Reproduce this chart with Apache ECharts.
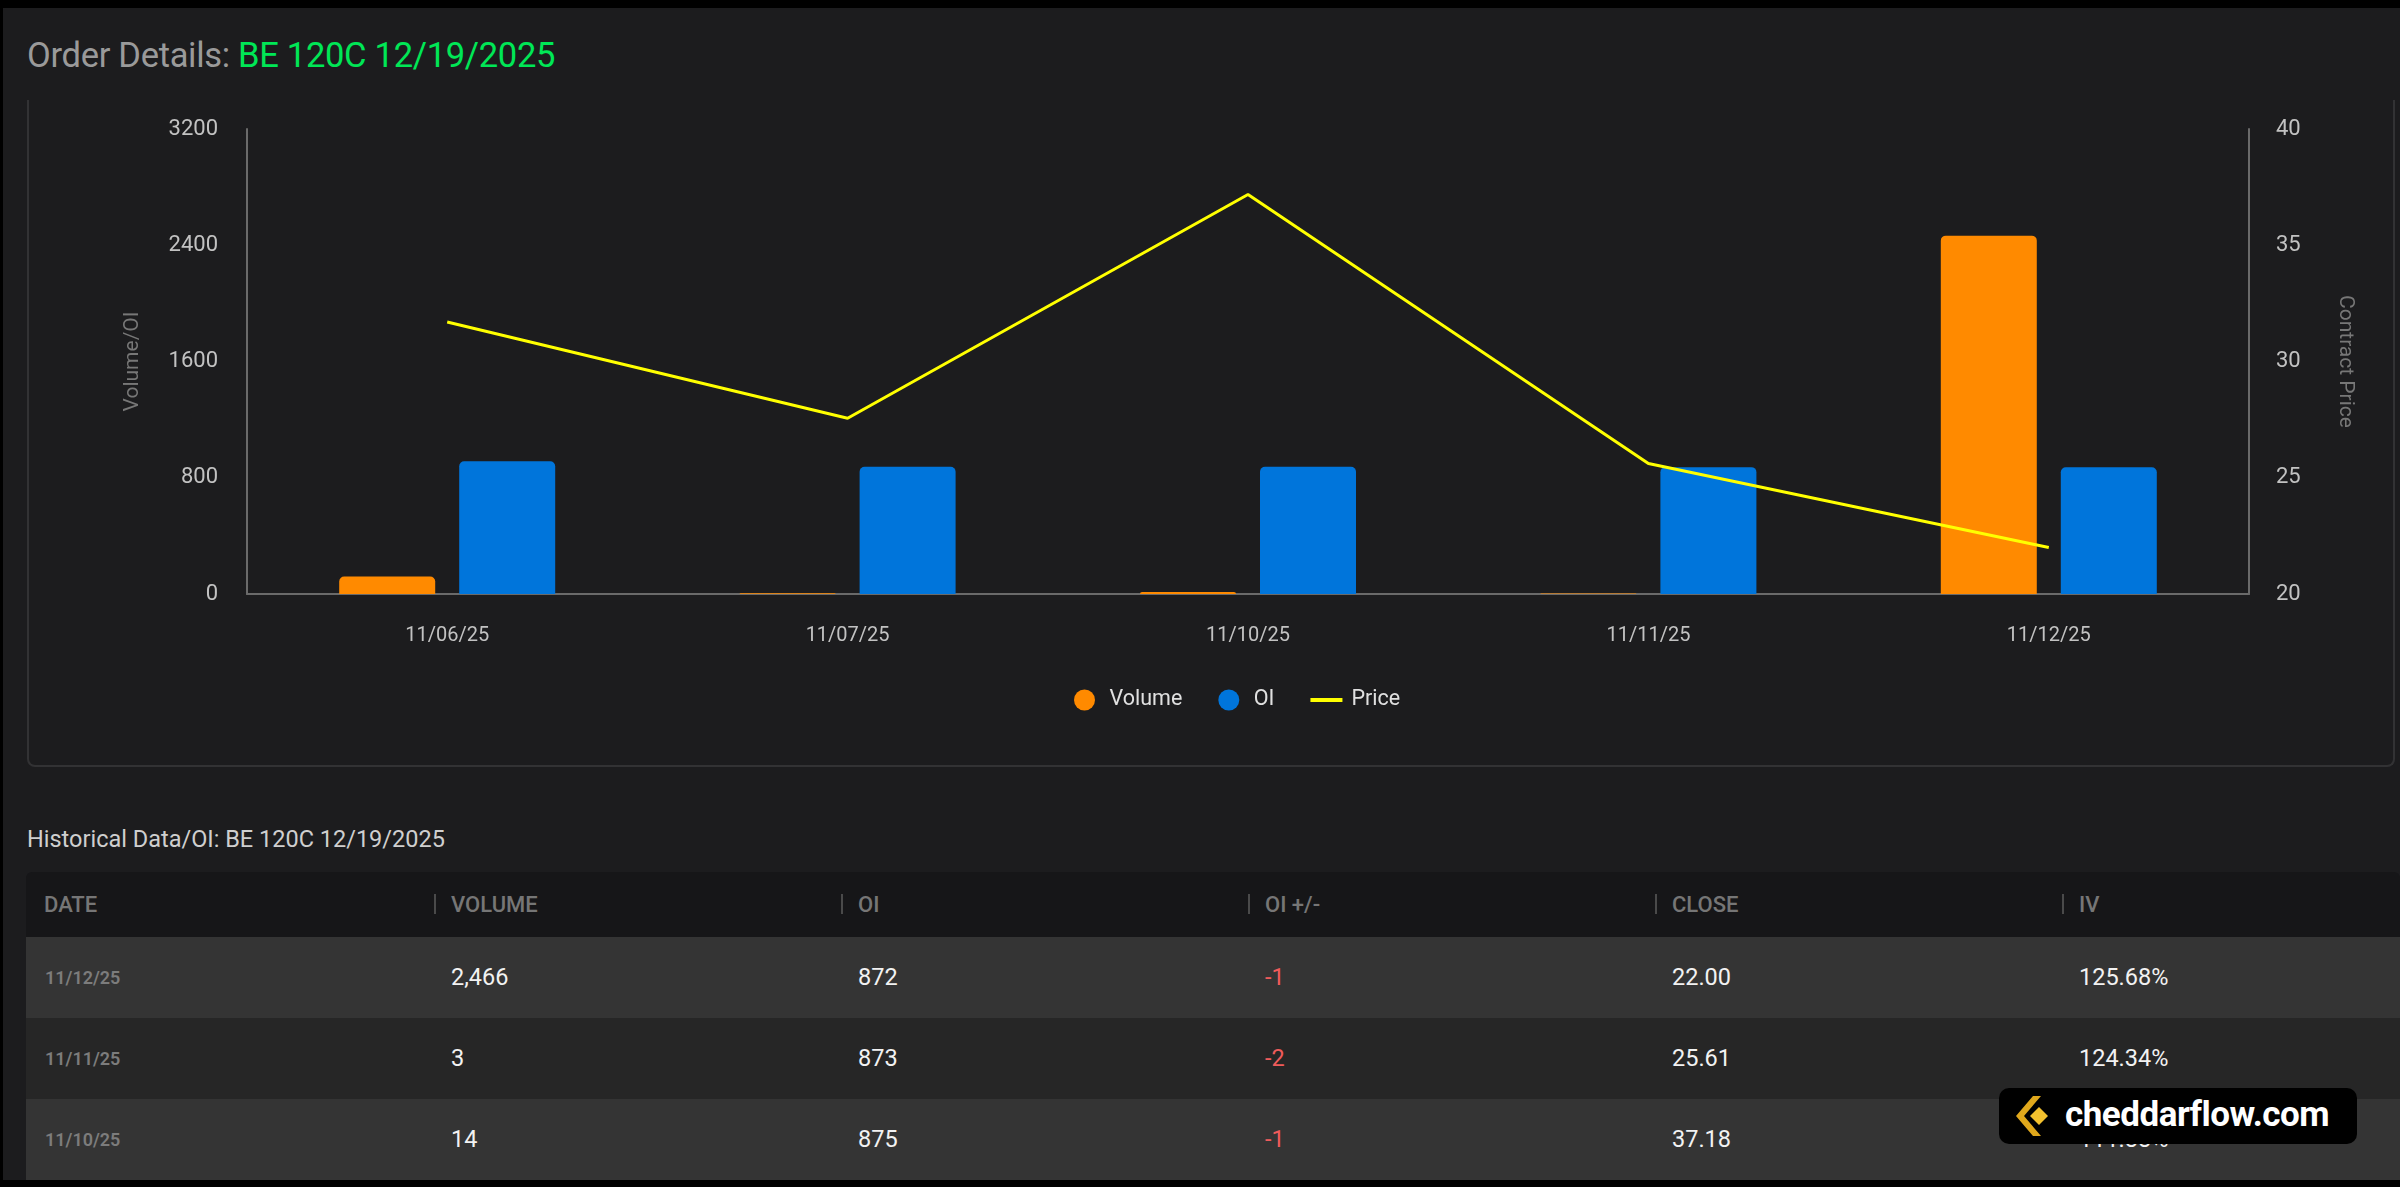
<!DOCTYPE html>
<html>
<head>
<meta charset="utf-8">
<script src="https://cdn.jsdelivr.net/npm/echarts@6/dist/echarts.min.js"></script>
<style>
  html, body { margin: 0; padding: 0; background: #000; width: 2400px; height: 1187px; overflow: hidden; font-family: Roboto, "Noto Sans", sans-serif; }
  #page { position: absolute; left: 3px; top: 8px; width: 2397px; height: 1172px; background: #1c1c1e; }
  #title { position: absolute; left: 24px; top: 27px; font-size: 34.5px; color: #9a9a9a; white-space: nowrap; letter-spacing: -0.3px; }
  #title span { color: #00e756; }
  #card { position: absolute; left: 24px; top: 92px; width: 2368px; height: 667px; border: 2px solid #323234; border-top: none; border-radius: 0 0 8px 8px; box-sizing: border-box; }
  #chart { position: absolute; left: 0; top: 0; width: 2400px; height: 780px; }
  #histTitle { position: absolute; left: 24px; top: 817px; font-size: 23.5px; color: #cfcfcf; white-space: nowrap; }
  #thead { position: absolute; left: 23px; top: 864px; width: 2374px; height: 65px; background: #161618; border-radius: 6px 6px 0 0; }
  .th { position: absolute; top: 0; height: 65px; line-height: 65px; font-size: 22px; font-weight: 500; color: #767676; white-space: nowrap; }
  .sep { position: absolute; top: 22px; width: 2px; height: 20px; background: #4a4a4a; }
  .row { position: absolute; left: 23px; width: 2374px; height: 81px; }
  .td { position: absolute; top: 0; height: 81px; line-height: 81px; font-size: 23.5px; color: #f2f2f2; white-space: nowrap; }
  .td.date { font-size: 18px; color: #7c7c7c; font-weight: 600; }
  .td.neg { color: #ef5b5b; }
  #wm { position: absolute; left: 1996px; top: 1080px; width: 358px; height: 56px; background: #000; border-radius: 10px; }
  #wm svg { position: absolute; left: 14px; top: 8px; }
  #wm .t { position: absolute; left: 66px; top: 0; height: 56px; line-height: 54px; font-size: 35px; font-weight: 700; color: #fff; white-space: nowrap; letter-spacing: -0.5px; }
</style>
</head>
<body>
<div id="page">
  <div id="title">Order Details: <span>BE 120C 12/19/2025</span></div>
  <div id="card"></div>
  <div id="histTitle">Historical Data/OI: BE 120C 12/19/2025</div>
  <div id="thead"></div>
  <div id="rows"></div>
  <div id="wm">
    <svg width="44" height="40" viewBox="0 0 44 40">
      <polygon points="20,0 28,0 11,20 28,40 20,40 3,20" fill="#e0a81c"/>
      <polygon points="26,11 35,20 26,29 17,20" fill="#f3c12e"/>
    </svg>
    <div class="t">cheddarflow.com</div>
  </div>
</div>
<div id="chart"></div>
<script>
// ---- chart data ----
const categories = ['11/06/25', '11/07/25', '11/10/25', '11/11/25', '11/12/25'];
const volumeValues = [120, 6, 14, 3, 2466];
const oiValues = [913, 876, 875, 873, 872];
const priceValues = [31.70, 27.56, 37.18, 25.61, 22.00];
const leftAxisMin = 0, leftAxisMax = 3200, leftAxisInterval = 800;
const rightAxisMin = 20, rightAxisMax = 40, rightAxisInterval = 5;

// ---- table data ----
const tableHeaders = ['DATE', 'VOLUME', 'OI', 'OI +/-', 'CLOSE', 'IV'];
const tableDates = ['11/12/25', '11/11/25', '11/10/25'];
const tableVolume = ['2,466', '3', '14'];
const tableOI = ['872', '873', '875'];
const tableOIChange = ['-1', '-2', '-1'];
const tableClose = ['22.00', '25.61', '37.18'];
const tableIV = ['125.68%', '124.34%', '111.88%'];

// build table (HTML)
const colX = [18, 425, 832, 1239, 1646, 2053];
const thead = document.getElementById('thead');
tableHeaders.forEach((h, i) => {
  if (i > 0) {
    const s = document.createElement('div');
    s.className = 'sep';
    s.style.left = (colX[i] - 17) + 'px';
    thead.appendChild(s);
  }
  const d = document.createElement('div');
  d.className = 'th';
  d.style.left = colX[i] + 'px';
  d.textContent = h;
  thead.appendChild(d);
});
const rowsEl = document.getElementById('rows');
const rowBg = ['#343434', '#262626', '#343434'];
tableDates.forEach((dt, r) => {
  const row = document.createElement('div');
  row.className = 'row';
  row.style.top = (929 + r * 81) + 'px';
  row.style.background = rowBg[r];
  const cells = [dt, tableVolume[r], tableOI[r], tableOIChange[r], tableClose[r], tableIV[r]];
  cells.forEach((c, i) => {
    const d = document.createElement('div');
    d.className = 'td' + (i === 0 ? ' date' : '') + (i === 3 && c.startsWith('-') ? ' neg' : '');
    d.style.left = (colX[i] + (i === 0 ? 1 : 0)) + 'px';
    d.textContent = c;
    row.appendChild(d);
  });
  rowsEl.appendChild(row);
});

// chart
const chart = echarts.init(document.getElementById('chart'), null, { renderer: 'canvas' });
const axisLineColor = '#6a6a6a';
const tickColor = '#c2c2c2';
const option = {
  backgroundColor: 'transparent',
  animation: false,
  textStyle: { fontFamily: 'Roboto' },
  grid: { left: 247, top: 129, width: 2002, height: 465 },
  legend: {
    left: 1069, top: 684,
    itemWidth: 32, itemHeight: 21, itemGap: 36,
    textStyle: { color: '#e0e0e0', fontSize: 21.5, padding: [0, 0, 0, 4] },
    data: [
      { name: 'Volume', icon: 'circle' },
      { name: 'OI', icon: 'circle' },
      { name: 'Price', icon: 'path://M0,0 L32,0 L32,4 L0,4 Z', itemStyle: { color: '#ffff00' } }
    ]
  },
  xAxis: {
    type: 'category', data: categories,
    axisLine: { lineStyle: { color: axisLineColor, width: 2 } },
    axisTick: { show: false },
    axisLabel: { color: tickColor, fontSize: 20, margin: 32 }
  },
  yAxis: [
    {
      type: 'value', min: leftAxisMin, max: leftAxisMax, interval: leftAxisInterval,
      name: 'Volume/OI', nameLocation: 'middle', nameGap: 104,
      nameTextStyle: { color: '#777', fontSize: 21 },
      axisLine: { show: true, lineStyle: { color: axisLineColor, width: 2 } },
      axisTick: { show: false }, splitLine: { show: false },
      axisLabel: { color: tickColor, fontSize: 22, margin: 29, formatter: v => String(v) }
    },
    {
      type: 'value', position: 'right', min: rightAxisMin, max: rightAxisMax, interval: rightAxisInterval,
      name: 'Contract Price', nameLocation: 'middle', nameRotate: -90, nameGap: 86,
      nameTextStyle: { color: '#777', fontSize: 21 },
      axisLine: { show: true, lineStyle: { color: axisLineColor, width: 2 } },
      axisTick: { show: false }, splitLine: { show: false },
      axisLabel: { color: tickColor, fontSize: 22, margin: 27, formatter: v => String(v) }
    }
  ],
  series: [
    { name: 'Volume', type: 'bar', data: volumeValues, barWidth: 96, barGap: '25%',
      itemStyle: { color: '#ff8a00', borderRadius: [5, 5, 0, 0] } },
    { name: 'OI', type: 'bar', data: oiValues, barWidth: 96, barGap: '25%',
      itemStyle: { color: '#0075db', borderRadius: [5, 5, 0, 0] } },
    { name: 'Price', type: 'line', yAxisIndex: 1, data: priceValues, symbol: 'none',
      lineStyle: { color: '#ffff00', width: 3 }, itemStyle: { color: '#ffff00' } }
  ]
};
chart.setOption(option);
</script>
</body>
</html>
